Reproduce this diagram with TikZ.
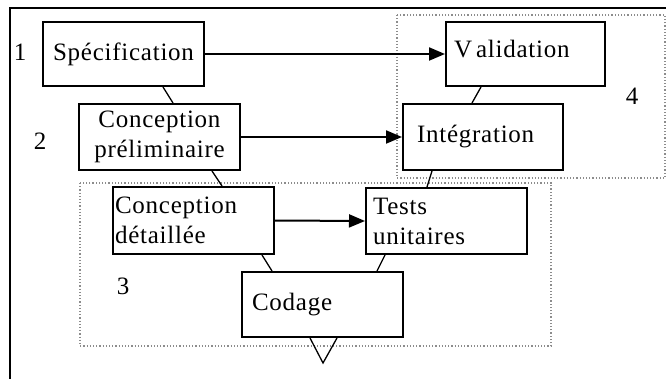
\documentclass[tikz,border=0pt]{standalone}
\usepackage{fontspec}
\setmainfont[LetterSpace=3]{Liberation Serif}
\usetikzlibrary{arrows.meta}
\begin{document}
\begin{tikzpicture}[x=1pt,y=-1pt,
  box/.style={draw=black,line width=2pt,minimum width=161pt,minimum height=65pt,
    font=\fontsize{25}{30}\selectfont,inner ysep=2pt},
  conn/.style={draw=black,line width=1.3pt},
  flow/.style={draw=black,line width=2pt,-{Triangle[length=16pt,width=13pt]}},
  group/.style={draw=black!45,dotted,line width=1.2pt},
  lbl/.style={font=\fontsize{25}{30}\selectfont,inner sep=0pt}]
\useasboundingbox (0,0) rectangle (666,379);
% outer frame
\coordinate (fbl) at (10,379);
\coordinate (ftl) at (10,8);
\coordinate (ftr) at (666,8);
\draw[line width=1.5pt] (fbl) -- (ftl) -- (ftr);
% groups
\draw[group] (80,183) rectangle (551,346);
\draw[group] (397,15) rectangle (665,178);
% boxes
\node[box,align=center,minimum width=161pt,minimum height=64pt] (spec) at (123.5,54) {Spécification};
\node[box,align=center,minimum height=66pt] (cp) at (159.5,137) {Conception\\préliminaire};
\node[box,align=left,text width=156pt,inner xsep=2pt,minimum height=67pt] (cd) at (193,220.5) {Conception\\détaillée};
\node[box,align=left,text width=147pt,inner xsep=7pt,minimum height=66pt] (tu) at (446.5,221) {Tests\\unitaires};
\node[box,align=left,text width=141pt,inner xsep=10pt,minimum height=65pt] (cod) at (322.5,304.5) {Codage};
\node[box,align=left,text width=143pt,inner xsep=8pt,minimum width=159pt,minimum height=64pt,text height=17pt,text depth=10pt] (val) at (525.5,54) {V\kern4pt alidation};
\node[box,align=left,text width=132pt,inner xsep=14pt,minimum width=160pt,minimum height=66pt] (integ) at (483,137) {Intégration};
% labels
\node[lbl] (l1) at (20,52) {1};
\node[lbl] (l2) at (40,141) {2};
\node[lbl] (l3) at (123,286) {3};
\node[lbl] (l4) at (632,96) {4};
% V connectors
\draw[conn] ([xshift=39.5pt]spec.south) -- ([xshift=13.5pt]cp.north);
\draw[conn] ([xshift=52.5pt]cp.south) -- ([xshift=29pt]cd.north);
\draw[conn] ([xshift=69pt]cd.south) -- ([xshift=-50.5pt]cod.north);
\draw[conn] ([xshift=54.5pt]cod.north) -- ([xshift=-61.5pt]tu.south);
\draw[conn] ([xshift=-19.5pt]tu.north) -- ([xshift=-51pt]integ.south);
\draw[conn] ([xshift=-11pt]integ.north) -- ([xshift=-44.5pt]val.south);
% bottom triangle
\coordinate (apex) at (323,363);
\draw[conn] ([xshift=-12.5pt]cod.south) -- (apex) -- ([xshift=14.5pt]cod.south);
% horizontal arrows
\draw[flow] (spec.east) -- (val.west);
\draw[flow] (cp.east) -- (integ.west);
\draw[flow] (cd.east) -- (tu.west);
\end{tikzpicture}
\end{document}
